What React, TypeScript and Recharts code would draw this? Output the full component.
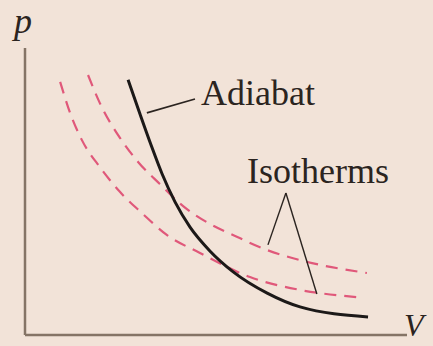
import React from 'react';
import { LineChart, Line, XAxis, YAxis, ReferenceLine } from 'recharts';

// p-V diagram: one adiabat crossing two isotherms (arbitrary units)
const adiabatV = [2.7, 3.01, 3.3, 3.59, 3.93, 4.32, 4.84, 5.45, 6.34, 7.2, 8.98];
const adiabatP = [8.89, 7.7, 6.62, 5.61, 4.63, 3.76, 2.93, 2.2, 1.46, 0.98, 0.63];

const hotIsothermV = [1.65, 1.96, 2.49, 2.96, 3.53, 4.14, 4.84, 5.5, 6.34, 7.2, 8.95];
const hotIsothermP = [9.06, 8.08, 6.86, 6.03, 5.26, 4.49, 3.87, 3.45, 2.96, 2.61, 2.16];

const coldIsothermV = [0.92, 1.18, 1.49, 1.96, 2.49, 3.06, 3.72, 4.58, 5.89, 7.2, 8.69];
const coldIsothermP = [8.82, 7.74, 6.79, 5.85, 4.98, 4.25, 3.48, 2.86, 2.02, 1.57, 1.32];

const toPoints = (v: number[], p: number[]) => v.map((x, i) => ({ v: x, p: p[i] }));

const BG = '#f2e3d8';
const INK = '#2b2420';
const AXIS = '#857466';
const DASH = '#e0587a';
const FONT = '"Liberation Serif", "Times New Roman", serif';

export default function App() {
  return (
    <div style={{ position: 'absolute', left: 0, top: 0, width: 433, height: 346, background: BG, overflow: 'hidden' }}>
      <LineChart width={433} height={346} margin={{ top: 48, right: 26, bottom: 11, left: 25 }}>
        <XAxis type="number" dataKey="v" domain={[0, 10]} allowDataOverflow hide />
        <YAxis type="number" dataKey="p" domain={[0, 10]} allowDataOverflow hide />
        {/* p and V axes */}
        <ReferenceLine x={0} stroke={AXIS} strokeWidth={2.5} />
        <ReferenceLine y={0} stroke={AXIS} strokeWidth={2.5} />
        <Line
          data={toPoints(coldIsothermV, coldIsothermP)}
          dataKey="p"
          type="monotone"
          stroke={DASH}
          strokeWidth={2.2}
          strokeDasharray="12 8"
          dot={false}
          isAnimationActive={false}
        />
        <Line
          data={toPoints(hotIsothermV, hotIsothermP)}
          dataKey="p"
          type="monotone"
          stroke={DASH}
          strokeWidth={2.2}
          strokeDasharray="12 8"
          dot={false}
          isAnimationActive={false}
        />
        <Line
          data={toPoints(adiabatV, adiabatP)}
          dataKey="p"
          type="monotone"
          stroke="#1c1918"
          strokeWidth={3}
          dot={false}
          isAnimationActive={false}
        />
        {/* leader lines for the labels */}
        <ReferenceLine segment={[{ x: 3.19, y: 7.74 }, { x: 4.45, y: 8.22 }]} stroke={INK} strokeWidth={1.6} />
        <ReferenceLine segment={[{ x: 6.83, y: 4.95 }, { x: 6.36, y: 3.14 }]} stroke={INK} strokeWidth={1.4} />
        <ReferenceLine segment={[{ x: 6.83, y: 4.95 }, { x: 7.64, y: 1.43 }]} stroke={INK} strokeWidth={1.4} />
      </LineChart>
      <svg width={433} height={346} style={{ position: 'absolute', left: 0, top: 0, pointerEvents: 'none' }}>
        <text x={14} y={33} fontFamily={FONT} fontStyle="italic" fontSize={36} fill={INK}>p</text>
        <text x={404} y={336} fontFamily={FONT} fontStyle="italic" fontSize={32} fill={INK}>V</text>
        <text x={201} y={105} fontFamily={FONT} fontSize={36} fill={INK}>Adiabat</text>
        <text x={247} y={183} fontFamily={FONT} fontSize={36} fill={INK}>Isotherms</text>
      </svg>
    </div>
  );
}
